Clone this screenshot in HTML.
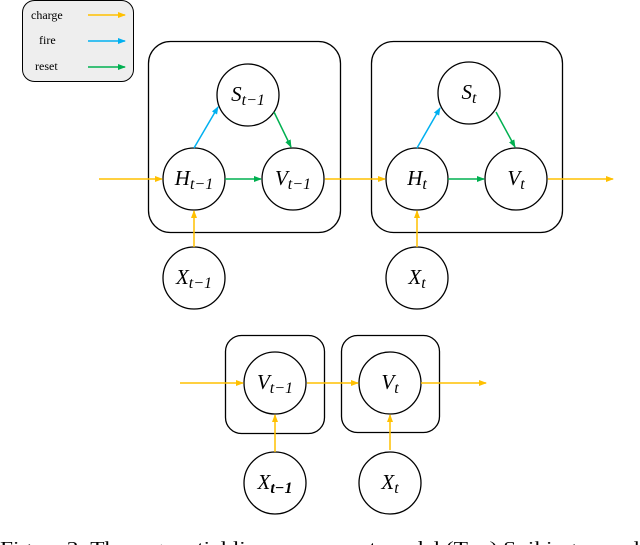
<!DOCTYPE html>
<html><head><meta charset="utf-8"><style>
html,body{margin:0;padding:0;background:#fff;width:640px;height:545px;overflow:hidden}
svg{display:block}
.m{font-family:"Liberation Serif",serif;font-style:italic;font-size:21px}
.s{font-size:16px}
</style></head><body>
<svg width="640" height="545" viewBox="0 0 640 545" xmlns="http://www.w3.org/2000/svg">
<defs>
<marker id="ao" markerWidth="8" markerHeight="8" refX="7" refY="4" orient="auto" markerUnits="userSpaceOnUse"><path d="M0,1 L8,4 L0,7 Z" fill="#FFC000"/></marker>
<marker id="ab" markerWidth="8" markerHeight="8" refX="7" refY="4" orient="auto" markerUnits="userSpaceOnUse"><path d="M0,1 L8,4 L0,7 Z" fill="#00B0F0"/></marker>
<marker id="ag" markerWidth="8" markerHeight="8" refX="7" refY="4" orient="auto" markerUnits="userSpaceOnUse"><path d="M0,1 L8,4 L0,7 Z" fill="#00B050"/></marker>
</defs>
<rect x="22.5" y="0.5" width="111" height="81" rx="12" fill="#eeeeee" stroke="#000" stroke-width="1"/>
<g font-family="Liberation Serif,serif" font-size="12" fill="#000">
<text x="31" y="19">charge</text><text x="39" y="44">fire</text><text x="35" y="70">reset</text></g>
<line x1="88" y1="15" x2="125" y2="15" stroke="#FFC000" stroke-width="1.5" marker-end="url(#ao)"/>
<line x1="88" y1="41" x2="125" y2="41" stroke="#00B0F0" stroke-width="1.5" marker-end="url(#ab)"/>
<line x1="88" y1="67" x2="125" y2="67" stroke="#00B050" stroke-width="1.5" marker-end="url(#ag)"/>
<rect x="148.5" y="41.5" width="192" height="191" rx="22" fill="none" stroke="#000" stroke-width="1.3"/>
<rect x="371.5" y="41.5" width="191" height="191" rx="22" fill="none" stroke="#000" stroke-width="1.3"/>
<g fill="#fff" stroke="#000" stroke-width="1.3">
<circle cx="248" cy="95" r="31"/><circle cx="194" cy="179" r="31"/><circle cx="293" cy="179" r="31"/><circle cx="194" cy="278" r="31"/>
<circle cx="469" cy="93" r="31"/><circle cx="417" cy="179" r="31"/><circle cx="516" cy="179" r="31"/><circle cx="417" cy="278" r="31"/>
<circle cx="275" cy="383" r="31"/><circle cx="390" cy="383" r="31"/><circle cx="275" cy="483" r="31"/><circle cx="390" cy="483" r="31"/>
</g>
<g stroke-width="1.5" fill="none">
<line x1="99" y1="179" x2="162" y2="179" stroke="#FFC000" marker-end="url(#ao)"/>
<line x1="325" y1="179" x2="385" y2="179" stroke="#FFC000" marker-end="url(#ao)"/>
<line x1="548" y1="179" x2="613" y2="179" stroke="#FFC000" marker-end="url(#ao)"/>
<line x1="194" y1="247" x2="194" y2="211" stroke="#FFC000" marker-end="url(#ao)"/>
<line x1="417" y1="247" x2="417" y2="211" stroke="#FFC000" marker-end="url(#ao)"/>
<line x1="194" y1="148" x2="218" y2="107" stroke="#00B0F0" marker-end="url(#ab)"/>
<line x1="417" y1="148" x2="440" y2="108" stroke="#00B0F0" marker-end="url(#ab)"/>
<line x1="225" y1="179" x2="261" y2="179" stroke="#00B050" marker-end="url(#ag)"/>
<line x1="448" y1="179" x2="484" y2="179" stroke="#00B050" marker-end="url(#ag)"/>
<line x1="274" y1="112" x2="291" y2="147" stroke="#00B050" marker-end="url(#ag)"/>
<line x1="496" y1="112" x2="515" y2="147" stroke="#00B050" marker-end="url(#ag)"/>
</g>
<rect x="225.5" y="335.5" width="99" height="98" rx="16" fill="none" stroke="#000" stroke-width="1.3"/>
<rect x="341.5" y="335.5" width="98" height="97" rx="16" fill="none" stroke="#000" stroke-width="1.3"/>
<g stroke-width="1.5" fill="none" stroke="#FFC000">
<line x1="180" y1="383" x2="243" y2="383" marker-end="url(#ao)"/>
<line x1="307" y1="383" x2="358" y2="383" marker-end="url(#ao)"/>
<line x1="421" y1="383" x2="486" y2="383" marker-end="url(#ao)"/>
<line x1="275" y1="452" x2="275" y2="415" marker-end="url(#ao)"/>
<line x1="390" y1="450" x2="390" y2="415" marker-end="url(#ao)"/>
</g>
<g class="m" fill="#000">
<text x="248" y="101" text-anchor="middle">S<tspan class="s" dy="4">t−1</tspan></text>
<text x="194" y="185" text-anchor="middle">H<tspan class="s" dy="4">t−1</tspan></text>
<text x="293" y="185" text-anchor="middle">V<tspan class="s" dy="4">t−1</tspan></text>
<text x="194" y="284" text-anchor="middle">X<tspan class="s" dy="4">t−1</tspan></text>
<text x="469" y="99" text-anchor="middle">S<tspan class="s" dy="4">t</tspan></text>
<text x="417" y="185" text-anchor="middle">H<tspan class="s" dy="4">t</tspan></text>
<text x="516" y="185" text-anchor="middle">V<tspan class="s" dy="4">t</tspan></text>
<text x="417" y="284" text-anchor="middle">X<tspan class="s" dy="4">t</tspan></text>
<text x="275" y="389" text-anchor="middle">V<tspan class="s" dy="4">t−1</tspan></text>
<text x="390" y="389" text-anchor="middle">V<tspan class="s" dy="4">t</tspan></text>
<text x="275" y="489" text-anchor="middle">X<tspan class="s" dy="4" font-weight="bold">t−1</tspan></text>
<text x="390" y="489" text-anchor="middle">X<tspan class="s" dy="4">t</tspan></text>
</g>
<text x="0" y="553" font-family="Liberation Serif,serif" font-size="17" fill="#000" textLength="640" lengthAdjust="spacingAndGlyphs">Figure 2:  The sequential linear recurrent model (Top) Spiking neural</text>
</svg>
</body></html>
